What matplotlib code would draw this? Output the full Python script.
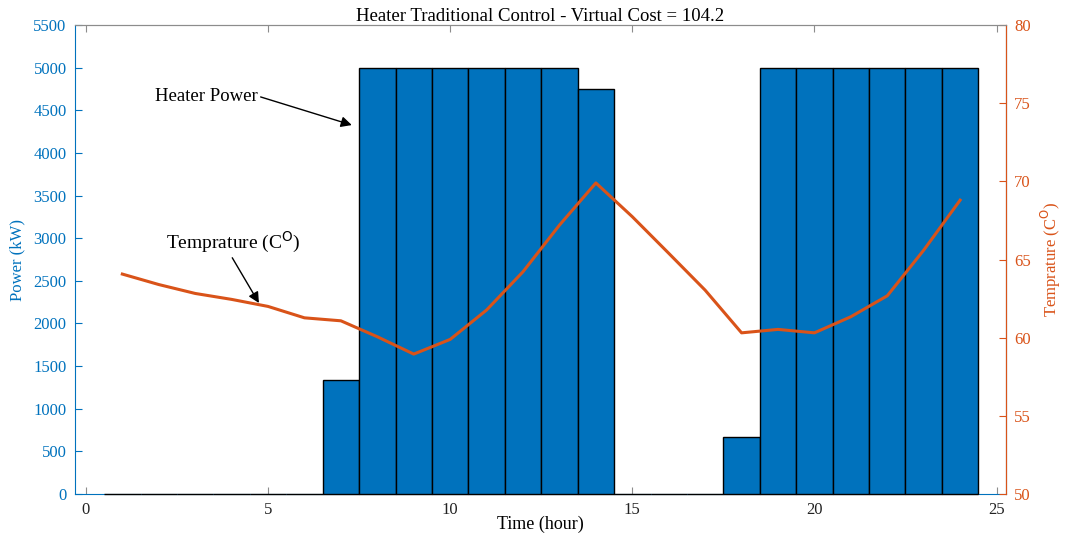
import matplotlib.pyplot as plt
import numpy as np

plt.rcParams['font.family'] = ['Liberation Serif', 'DejaVu Serif']

hours = np.arange(1, 25)
power = [0, 0, 0, 0, 0, 0, 1333, 5000, 5000, 5000, 5000, 5000, 5000, 4750,
         0, 0, 0, 667, 5000, 5000, 5000, 5000, 5000, 5000]
temp = [64.07, 63.4, 62.83, 62.45, 62.0, 61.27, 61.08, 60.06, 58.95, 59.89,
        61.77, 64.22, 67.2, 69.9, 67.74, 65.4, 63.04, 60.31, 60.53, 60.31,
        61.34, 62.68, 65.6, 68.8]

blue = '#0072BD'
orange = '#D95319'
gray = '#8c8c8c'

fig = plt.figure(figsize=(10.71, 5.39), dpi=100)
ax = fig.add_axes([0.070, 0.0835, 0.869, 0.870])

ax.bar(hours, power, width=1.0, color=blue, edgecolor='black', linewidth=1.0,
       zorder=3, clip_on=False)
ax.set_xlim(-0.3, 25.25)
ax.set_ylim(0, 5500)
ax.set_yticks(np.arange(0, 5501, 500))
ax.set_xticks([0, 5, 10, 15, 20, 25])
ax.set_ylabel('Power (kW)', color=blue, fontsize=12, labelpad=6)
ax.set_xlabel('Time (hour)', fontsize=13, labelpad=-2)
ax.set_title('Heater Traditional Control - Virtual Cost = 104.2', fontsize=13.5, pad=2)

ax.tick_params(axis='y', colors=blue, direction='in', labelsize=12, length=5, pad=6)
ax.tick_params(axis='x', colors=gray, labelcolor='#222222', direction='in',
               labelsize=12, length=5, top=True, pad=6)
ax.spines['left'].set_color(blue)
ax.spines['bottom'].set_color(blue)
ax.spines['top'].set_color(gray)

ax2 = ax.twinx()
ax2.plot(hours, temp, color=orange, linewidth=2.2, zorder=3)
ax2.set_ylim(50, 80)
ax2.set_yticks(np.arange(50, 81, 5))
ax2.set_ylabel('Temprature (C$^\\mathrm{O}$)', color=orange, fontsize=12, labelpad=6)
ax2.tick_params(axis='y', colors=orange, direction='in', labelsize=12, length=5, pad=6)
ax2.spines['right'].set_color(orange)
ax2.spines['left'].set_visible(False)
ax2.spines['top'].set_color(gray)
ax2.spines['bottom'].set_visible(False)

ax.annotate('Heater Power', xy=(7.3, 4327), xytext=(1.9, 4667),
            fontsize=13.5, va='center', ha='left',
            arrowprops=dict(arrowstyle='-|>', color='black', lw=1.0,
                            mutation_scale=16, shrinkA=0, shrinkB=0,
                            relpos=(1.0, 0.5)))
ax.annotate('Temprature (C$^\\mathrm{O}$)', xy=(4.75, 2240), xytext=(2.2, 2950),
            fontsize=14, va='center', ha='left', zorder=5,
            arrowprops=dict(arrowstyle='-|>', color='black', lw=1.0,
                            mutation_scale=16, shrinkA=0, shrinkB=0,
                            relpos=(0.48, 0.0)))

fig.savefig('out.png', dpi=100)
